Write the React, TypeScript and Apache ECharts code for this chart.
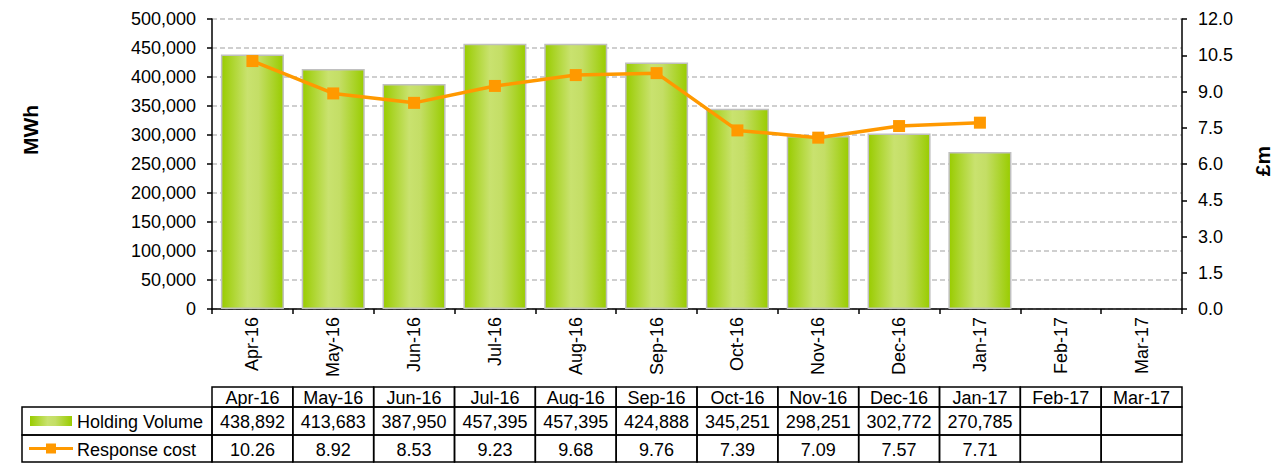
import React, { useEffect, useRef } from "react";
import * as echarts from "echarts";

const categories = ["Apr-16", "May-16", "Jun-16", "Jul-16", "Aug-16", "Sep-16", "Oct-16", "Nov-16", "Dec-16", "Jan-17", "Feb-17", "Mar-17"];
const holdingVolume: (number | null)[] = [438892, 413683, 387950, 457395, 457395, 424888, 345251, 298251, 302772, 270785, null, null];
const responseCost: (number | null)[] = [10.26, 8.92, 8.53, 9.23, 9.68, 9.76, 7.39, 7.09, 7.57, 7.71, null, null];
const seriesNames = ["Holding Volume", "Response cost"];
const leftAxis = { min: 0, max: 500000, interval: 50000, name: "MWh" };
const rightAxis = { min: 0, max: 12, interval: 1.5, name: "£m" };

const FONT = '"Liberation Sans", Arial, sans-serif';
const ORANGE = "#ff9900";

function barGradient() {
  return new echarts.graphic.LinearGradient(0, 0, 1, 0, [
    { offset: 0, color: "#99cc00" },
    { offset: 0.42, color: "#c9e26f" },
    { offset: 0.6, color: "#c4de66" },
    { offset: 1, color: "#99cc00" },
  ]);
}

export default function App() {
  const ref = useRef<HTMLDivElement>(null);
  useEffect(() => {
    const el = ref.current!;
    const chart = echarts.init(el, null, { renderer: "svg" });
    const option: any = {
      animation: false,
      textStyle: { fontFamily: FONT },
      grid: { left: 212, right: 104, top: 19, bottom: 155, containLabel: false },
      xAxis: {
        type: "category",
        data: categories,
        axisLine: { lineStyle: { color: "#000", width: 1.5 } },
        axisTick: { show: true, length: 5, lineStyle: { color: "#000", width: 1.5 } },
        axisLabel: { rotate: 90, margin: 8, fontSize: 18, color: "#000", fontFamily: FONT },
        splitLine: { show: false },
      },
      yAxis: [
        {
          type: "value",
          min: leftAxis.min,
          max: leftAxis.max,
          interval: leftAxis.interval,
          axisLine: { show: true, lineStyle: { color: "#000", width: 1.5 } },
          axisTick: { show: true, length: 5, lineStyle: { color: "#000", width: 1.5 } },
          axisLabel: {
            margin: 16,
            fontSize: 18,
            color: "#000",
            fontFamily: FONT,
            formatter: (v: number) => v.toLocaleString("en-US"),
          },
          splitLine: { show: true, lineStyle: { color: "#c0c0c0", type: [5, 3], width: 1.5 } },
        },
        {
          type: "value",
          min: rightAxis.min,
          max: rightAxis.max,
          interval: rightAxis.interval,
          position: "right",
          axisLine: { show: true, lineStyle: { color: "#000", width: 1.5 } },
          axisTick: { show: true, length: 5, lineStyle: { color: "#000", width: 1.5 } },
          axisLabel: {
            margin: 16,
            fontSize: 18,
            color: "#000",
            fontFamily: FONT,
            formatter: (v: number) => v.toFixed(1),
          },
          splitLine: { show: false },
        },
      ],
      series: [
        {
          name: seriesNames[0],
          type: "bar",
          yAxisIndex: 0,
          data: holdingVolume,
          barCategoryGap: "22%",
          itemStyle: { color: barGradient(), borderColor: "#c0c0c0", borderWidth: 1.5 },
          z: 2,
        },
        {
          name: seriesNames[1],
          type: "line",
          yAxisIndex: 1,
          data: responseCost,
          symbol: "rect",
          symbolSize: 12,
          lineStyle: { color: ORANGE, width: 3.5 },
          itemStyle: { color: ORANGE },
          z: 3,
        },
      ],
    };
    chart.setOption(option);

    const c0 = chart.convertToPixel({ xAxisIndex: 0 }, 0) as number;
    const c1 = chart.convertToPixel({ xAxisIndex: 0 }, 1) as number;
    const cw = c1 - c0;
    const tLeft = c0 - cw / 2;
    const legendLeft = 22;
    const rowTops = [387, 407, 435];
    const rowHeights = [20, 28, 27];
    const els: any[] = [];
    const cellStyle = { fill: "none", stroke: "#000", lineWidth: 1.5 };
    const txt = (text: string, x: number, y: number, align = "center") => ({
      type: "text",
      x,
      y,
      style: {
        text,
        fill: "#000",
        font: `18px ${FONT}`,
        fontSize: 18,
        fontFamily: FONT,
        align,
        verticalAlign: "middle",
        textAlign: align,
        textVerticalAlign: "middle",
      },
      z: 10,
    });
    const fmtVol = (v: number | null) => (v == null ? "" : v.toLocaleString("en-US"));
    const fmtCost = (v: number | null) => (v == null ? "" : v.toFixed(2));
    categories.forEach((cat, i) => {
      const x = tLeft + i * cw;
      for (let r = 0; r < 3; r++) {
        els.push({ type: "rect", shape: { x, y: rowTops[r], width: cw, height: rowHeights[r] }, style: cellStyle, z: 9 });
      }
      const cx = x + cw / 2;
      els.push(txt(cat, cx, rowTops[0] + rowHeights[0] / 2 + 1));
      els.push(txt(fmtVol(holdingVolume[i]), cx, rowTops[1] + rowHeights[1] / 2 + 1));
      els.push(txt(fmtCost(responseCost[i]), cx, rowTops[2] + rowHeights[2] / 2 + 1));
    });
    for (let r = 1; r < 3; r++) {
      els.push({ type: "rect", shape: { x: legendLeft, y: rowTops[r], width: tLeft - legendLeft, height: rowHeights[r] }, style: cellStyle, z: 9 });
    }
    // legend keys
    const y1 = rowTops[1] + rowHeights[1] / 2;
    const y2 = rowTops[2] + rowHeights[2] / 2;
    els.push({ type: "rect", shape: { x: 30, y: y1 - 5, width: 42, height: 10 }, style: { fill: barGradient() }, z: 10 });
    els.push(txt(seriesNames[0], 77, y1 + 1, "left"));
    els.push({ type: "line", shape: { x1: 29, y1: y2, x2: 73, y2: y2 }, style: { stroke: ORANGE, lineWidth: 3 }, z: 10 });
    els.push({ type: "rect", shape: { x: 46, y: y2 - 5, width: 10, height: 10 }, style: { fill: ORANGE }, z: 11 });
    els.push(txt(seriesNames[1], 77, y2 + 1, "left"));
    // axis names
    els.push({
      type: "text",
      x: 30,
      y: 130,
      rotation: Math.PI / 2,
      style: { text: leftAxis.name, fill: "#000", font: `bold 21px ${FONT}`, align: "center", verticalAlign: "middle", textAlign: "center", textVerticalAlign: "middle" },
    });
    els.push({
      type: "text",
      x: 1262,
      y: 161,
      rotation: Math.PI / 2,
      style: { text: rightAxis.name, fill: "#000", font: `bold 21px ${FONT}`, align: "center", verticalAlign: "middle", textAlign: "center", textVerticalAlign: "middle" },
    });
    chart.setOption({ graphic: { elements: els } });

    return () => chart.dispose();
  }, []);
  return <div ref={ref} style={{ position: "absolute", left: 0, top: 0, width: 1286, height: 464 }} />;
}
